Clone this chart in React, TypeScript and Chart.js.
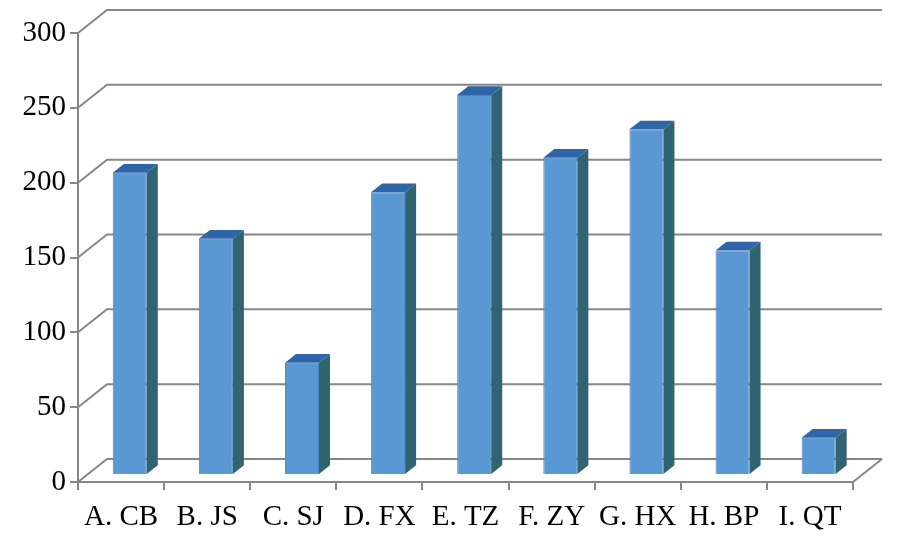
import React, { useEffect, useRef } from "react";
import { Chart, registerables } from "chart.js";

Chart.register(...registerables);

const categories = ["A. CB", "B. JS", "C. SJ", "D. FX", "E. TZ", "F. ZY", "G. HX", "H. BP", "I. QT"];
const values = [202, 158, 75, 189, 254, 212, 231, 150, 25];
const yTicks = [0, 50, 100, 150, 200, 250, 300];

const DEPTH_X = 29;
const DEPTH_Y = 23;
const BAR_FRONT = 0.3;
const BAR_DEPTH = 0.38;
const GRID_COLOR = "#878787";

const perspectivePlugin = {
  id: "perspective3d",
  beforeDatasetsDraw(chart: any) {
    const { ctx, chartArea, scales } = chart;
    const y = scales.y;
    ctx.save();
    ctx.strokeStyle = GRID_COLOR;
    ctx.lineWidth = 2;
    ctx.lineJoin = "miter";
    for (const v of yTicks) {
      const py = y.getPixelForValue(v);
      ctx.beginPath();
      ctx.moveTo(chartArea.left, py);
      ctx.lineTo(chartArea.left + DEPTH_X, py - DEPTH_Y);
      ctx.lineTo(chartArea.right + DEPTH_X, py - DEPTH_Y);
      ctx.stroke();
    }
    const p0 = y.getPixelForValue(0);
    ctx.beginPath();
    ctx.moveTo(chartArea.right + DEPTH_X, p0 - DEPTH_Y);
    ctx.lineTo(chartArea.right, p0);
    ctx.stroke();
    ctx.restore();

    ctx.save();
    ctx.translate(DEPTH_X * BAR_FRONT, -DEPTH_Y * BAR_FRONT);
  },
  afterDatasetsDraw(chart: any) {
    const { ctx } = chart;
    const meta = chart.getDatasetMeta(0);
    const bdx = DEPTH_X * BAR_DEPTH;
    const bdy = DEPTH_Y * BAR_DEPTH;
    meta.data.forEach((bar: any) => {
      const { x, y, base, width } = bar.getProps(["x", "y", "base", "width"], true);
      const l = x - width / 2;
      const r = x + width / 2;
      ctx.beginPath();
      ctx.moveTo(r, y);
      ctx.lineTo(r + bdx, y - bdy);
      ctx.lineTo(r + bdx, base - bdy);
      ctx.lineTo(r, base);
      ctx.closePath();
      ctx.fillStyle = "#2f6470";
      ctx.fill();
      ctx.beginPath();
      ctx.moveTo(l, y);
      ctx.lineTo(l + bdx, y - bdy);
      ctx.lineTo(r + bdx, y - bdy);
      ctx.lineTo(r, y);
      ctx.closePath();
      ctx.fillStyle = "#2e65a6";
      ctx.fill();
    });
    ctx.restore();
  },
};

export default function App() {
  const ref = useRef<HTMLCanvasElement | null>(null);

  useEffect(() => {
    document.body.style.margin = "0";
    const canvas = ref.current;
    if (!canvas) return;
    const font = { family: "'Liberation Serif', 'Times New Roman', serif", size: 29 };
    const chart = new Chart(canvas, {
      type: "bar",
      data: {
        labels: categories,
        datasets: [
          {
            data: values,
            backgroundColor: "#5a98d3",
            borderColor: "#4a86c5",
            borderWidth: 1,
            categoryPercentage: 1,
            barPercentage: 0.395,
          },
        ],
      },
      options: {
        animation: false,
        responsive: false,
        maintainAspectRatio: false,
        layout: { padding: { left: 0, right: 50, top: 33, bottom: 0 } },
        plugins: { legend: { display: false }, tooltip: { enabled: false } },
        scales: {
          x: {
            afterFit: (s: any) => {
              s.height = 54;
            },
            grid: {
              offset: true,
              drawOnChartArea: false,
              drawTicks: true,
              tickLength: 8,
              color: GRID_COLOR,
              lineWidth: 2,
            },
            border: { display: true, color: GRID_COLOR, width: 2 },
            ticks: {
              color: "#000",
              font,
              padding: 10,
              maxRotation: 0,
              autoSkip: false,
            },
          },
          y: {
            min: 0,
            max: 300,
            afterFit: (s: any) => {
              s.width = 78;
            },
            afterBuildTicks: (s: any) => {
              s.ticks = yTicks.map((v) => ({ value: v }));
            },
            grid: {
              drawOnChartArea: false,
              drawTicks: true,
              tickLength: 8,
              color: GRID_COLOR,
              lineWidth: 2,
            },
            border: { display: true, color: GRID_COLOR, width: 2 },
            ticks: {
              color: "#000",
              font,
              padding: 4,
            },
          },
        },
      },
      plugins: [perspectivePlugin],
    });
    return () => chart.destroy();
  }, []);

  return (
    <div style={{ position: "absolute", left: 0, top: 0, width: 903, height: 536, background: "#fff" }}>
      <canvas ref={ref} width={903} height={536} style={{ display: "block" }} />
    </div>
  );
}
